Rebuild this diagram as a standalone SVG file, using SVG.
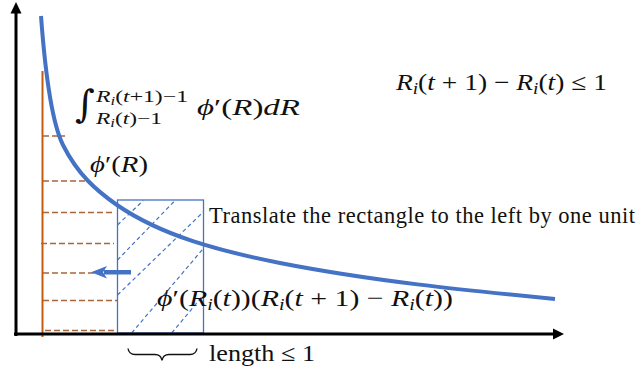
<svg xmlns="http://www.w3.org/2000/svg" width="639" height="368" viewBox="0 0 639 368">
<style>
text{font-family:"Liberation Serif","DejaVu Serif",serif;fill:#111}
.i{font-style:italic}
.dash{stroke:#A9653A;stroke-width:1.4;stroke-dasharray:6 3;fill:none}
.hatch{stroke:#4472C4;stroke-width:1.2;stroke-dasharray:4 3;fill:none}
</style>
<rect width="639" height="368" fill="#fff"/>
<g id="riemann">
<line x1="42.5" y1="71" x2="42.5" y2="337" stroke="#C55A11" stroke-width="2"/>
<line class="dash" x1="43" y1="136" x2="65" y2="136"/>
<line class="dash" x1="43" y1="181" x2="90" y2="181"/>
<line class="dash" x1="43" y1="212.5" x2="112" y2="212.5"/>
<line class="dash" x1="41" y1="243.5" x2="114" y2="243.5"/>
<line class="dash" x1="43" y1="273" x2="117" y2="273" stroke="#8B4513"/>
<line class="dash" x1="43" y1="300.5" x2="117" y2="300.5"/>
<line class="dash" x1="45" y1="330.5" x2="117" y2="330.5"/>
</g>
<g id="rectangle">
<rect x="117.5" y="200" width="86" height="133" fill="none" stroke="#4472C4" stroke-width="1.3"/>
<line class="hatch" x1="117.5" y1="225" x2="143.3" y2="200.5"/>
<line class="hatch" x1="117.5" y1="260" x2="175" y2="200.5"/>
<line class="hatch" x1="117.5" y1="295" x2="203.5" y2="211.7"/>
<line class="hatch" x1="131.7" y1="333" x2="203.5" y2="248.3"/>
<line class="hatch" x1="171.7" y1="333" x2="203.5" y2="295"/>
</g>
<g id="curve">
<path d="M41,16 C45,70 51,121 63,145 C78,175 97,191 117,205 C162,236 220,251 280,263 C372,281 463,290 555,299" fill="none" stroke="#4472C4" stroke-width="4"/>
</g>
<g id="connectors">
<line x1="16" y1="336" x2="16" y2="12" stroke="#000" stroke-width="3"/>
<polygon points="16,2 10.5,13.5 21.5,13.5" fill="#000"/>
<line x1="14" y1="334" x2="555" y2="334" stroke="#000" stroke-width="3"/>
<polygon points="564,334 553,328.5 553,339.5" fill="#000"/>
<rect x="104" y="270" width="27" height="4.5" fill="#4472C4"/>
<polygon points="91,272.3 107,266 103,272.3 107,278.5" fill="#4472C4"/>
<path d="M128,348.5 Q129,354.5 135,354.5 L155,354.5 Q161,354.5 162,360.5 Q163,354.5 169,354.5 L190,354.5 Q196,354.5 197,348.5" fill="none" stroke="#111" stroke-width="1.4"/>
</g>
<g id="labels">
<text x="396" y="90" font-size="23" textLength="211" lengthAdjust="spacingAndGlyphs"><tspan class="i">R</tspan><tspan class="i" font-size="16" dy="4">i</tspan><tspan dy="-4">(</tspan><tspan class="i">t</tspan> + 1) − <tspan class="i">R</tspan><tspan class="i" font-size="16" dy="4">i</tspan><tspan dy="-4">(</tspan><tspan class="i">t</tspan>) ≤ 1</text>
<text x="75" y="117" font-size="38" style="font-family:'DejaVu Serif',serif">∫</text>
<text x="96" y="102" font-size="17" textLength="92" lengthAdjust="spacingAndGlyphs"><tspan class="i">R</tspan><tspan class="i" font-size="12" dy="3">i</tspan><tspan dy="-3">(</tspan><tspan class="i">t</tspan>+1)−1</text>
<text x="96" y="124" font-size="17" textLength="66" lengthAdjust="spacingAndGlyphs"><tspan class="i">R</tspan><tspan class="i" font-size="12" dy="3">i</tspan><tspan dy="-3">(</tspan><tspan class="i">t</tspan>)−1</text>
<text x="197" y="115" font-size="24" textLength="103" lengthAdjust="spacingAndGlyphs"><tspan class="i">ϕ</tspan>′(<tspan class="i">R</tspan>)<tspan class="i">dR</tspan></text>
<text x="90" y="172" font-size="24" textLength="58" lengthAdjust="spacingAndGlyphs"><tspan class="i">ϕ</tspan>′(<tspan class="i">R</tspan>)</text>
<text x="209" y="223" font-size="22.5" textLength="426" lengthAdjust="spacing">Translate the rectangle to the left by one unit</text>
<text x="157" y="306" font-size="24" textLength="296" lengthAdjust="spacingAndGlyphs"><tspan class="i">ϕ</tspan>′(<tspan class="i">R</tspan><tspan class="i" font-size="16" dy="4">i</tspan><tspan dy="-4">(</tspan><tspan class="i">t</tspan>))(<tspan class="i">R</tspan><tspan class="i" font-size="16" dy="4">i</tspan><tspan dy="-4">(</tspan><tspan class="i">t</tspan> + 1) − <tspan class="i">R</tspan><tspan class="i" font-size="16" dy="4">i</tspan><tspan dy="-4">(</tspan><tspan class="i">t</tspan>))</text>
<text x="209" y="361" font-size="23" textLength="106" lengthAdjust="spacingAndGlyphs">length ≤ 1</text>
</g>
</svg>
